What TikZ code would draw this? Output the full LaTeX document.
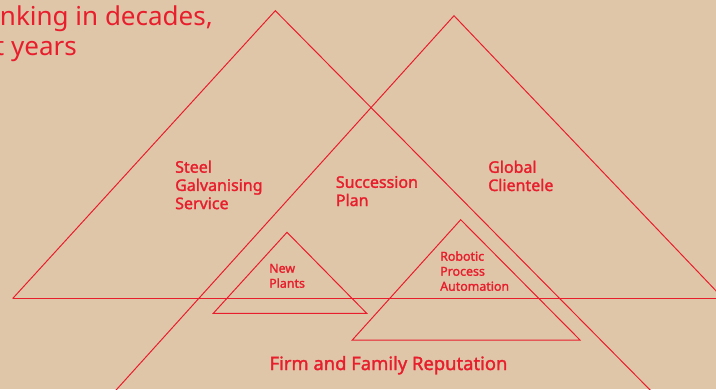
\documentclass[tikz,border=0pt]{standalone}
\usepackage{fontspec}
\setmainfont{Noto Sans}
\newfontfamily\labelfont{Noto Sans}[FakeBold=1.6]
\definecolor{sand}{RGB}{223,198,169}
\definecolor{brandred}{RGB}{232,30,45}
\tikzset{
  edge/.style={draw=brandred, line width=1pt, line join=miter},
  label/.style={text=brandred, font=\labelfont\fontsize{16}{18.2}\selectfont, align=left, anchor=base west, inner sep=0pt},
  smalllabel/.style={label, font=\labelfont\fontsize{12.4}{15}\selectfont},
  headline/.style={text=brandred, font=\fontsize{26}{30}\selectfont, anchor=base east, inner sep=0pt}
}
\begin{document}
\begin{tikzpicture}[x=1pt, y=-1pt]
  \useasboundingbox (0,0) rectangle (716,389);
  \fill[sand] (0,0) rectangle (716,389);
  \clip (0,0) rectangle (716,389);

  % heading running off the left edge
  \node[headline] (head1) at (213,25) {nking in decades,};
  \node[headline] (head2) at (77,55) {t years};

  % vertices of the outer pyramids
  \coordinate (steelL) at (12.7,298.5);
  \coordinate (steelTop) at (275.3,10.7);
  \coordinate (steelEnd) at (659,399);
  \coordinate (globTop) at (454,15.7);
  \coordinate (globL) at (108,399);
  \coordinate (globR) at (726,301.3);
  \coordinate (baseR) at (726,298.5);

  \draw[edge] (steelL) -- (steelTop) -- (steelEnd);
  \draw[edge] (globL) -- (globTop) -- (globR);
  \draw[edge] (steelL) -- (baseR);

  % inner pyramids
  \coordinate (npTop) at (287,232.3);
  \coordinate (npL) at (213.3,313.3);
  \coordinate (npR) at (366.7,313.3);
  \draw[edge] (npTop) -- (npL) -- (npR) -- cycle;

  \coordinate (rpaTop) at (460.7,219.7);
  \coordinate (rpaL) at (352.3,340);
  \coordinate (rpaR) at (580,340);
  \draw[edge] (rpaTop) -- (rpaL) -- (rpaR) -- cycle;

  % labels (anchored at the baseline of their last line)
  \node[label] (steel) at (175,209.1) {Steel\\Galvanising\\Service};
  \node[label] (succ) at (335.7,206) {Succession\\Plan};
  \node[label] (glob) at (488,191) {Global\\Clientele};
  \node[smalllabel] (np) at (269,287.7) {New\\Plants};
  \node[smalllabel] (rpa) at (440,290.7) {Robotic\\Process\\Automation};
  \node[label, font=\labelfont\fontsize{18.4}{20}\selectfont] (firm) at (269.4,370) {Firm and Family Reputation};
\end{tikzpicture}
\end{document}
